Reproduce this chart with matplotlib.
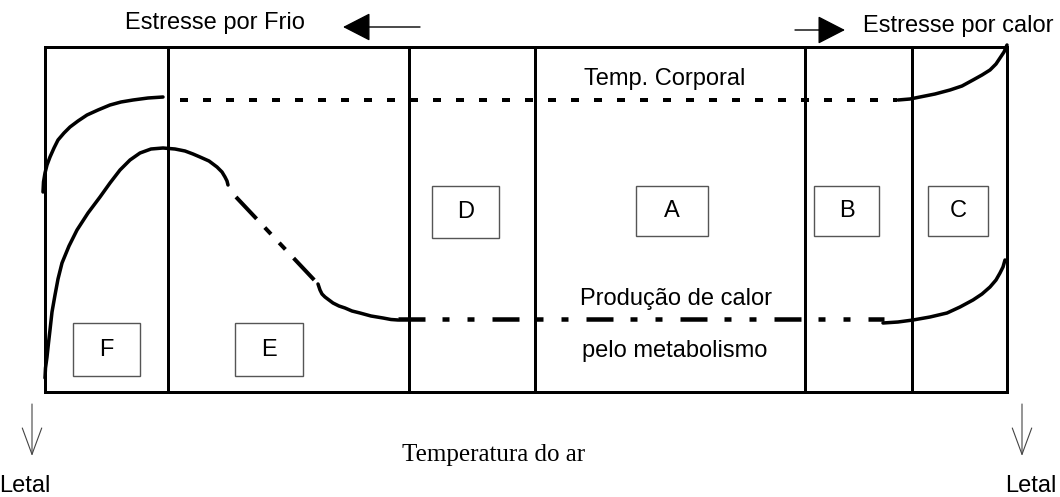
import matplotlib.pyplot as plt
from matplotlib.patches import Rectangle

plt.rcParams['lines.scale_dashes'] = False
plt.rcParams['font.family'] = ['Liberation Sans', 'DejaVu Sans']

# limites das zonas (eixo de temperatura, em px do desenho)
zone_edges = [45, 168, 409, 535, 805, 912, 1007]
zone_letters = ['F', 'E', 'D', 'A', 'B', 'C']
# caixas das letras: (x0, x1, y0, y1)
letter_boxes = [(73, 140, 323, 376), (235, 303, 323, 376), (432, 499, 186, 238),
                (636, 708, 186, 236), (814, 879, 186, 236), (928, 988, 186, 236)]
frame_top, frame_bottom = 47, 392

# temperatura corporal
temp_left_x = [43, 43.5, 45, 47, 50, 54, 58, 64, 70, 78, 87, 98, 110, 121, 133, 148, 163]
temp_left_y = [192, 182, 173, 165, 157, 148, 140, 133, 127, 121, 115, 110, 105, 102, 100, 98, 97]
temp_flat_x = [180, 897]
temp_flat_y = [100, 100]
temp_right_x = [898, 910, 920, 935, 950, 962, 973, 982, 990, 996, 1000, 1004, 1007]
temp_right_y = [100, 99, 97, 94, 90, 86, 80, 75, 70, 64, 58, 52, 45]

# producao de calor
heat_left_x = [45, 45.5, 47, 48.5, 50, 52, 55, 58, 62, 69, 77, 88, 100, 110, 120, 130, 140,
               151, 163, 175, 185, 193, 200, 209, 217, 222, 225, 227, 228]
heat_left_y = [378, 368, 357, 343, 330, 312, 295, 279, 263, 246, 230, 213, 197, 183, 170, 160,
               153, 149, 148, 149, 151, 154, 157, 161, 167, 172, 177, 181, 185]
heat_diag_x = [236, 318]
heat_diag_y = [197, 284]
heat_mid_x = [318, 319, 320, 322, 325, 329, 333, 339, 345, 352, 360, 371, 383, 391, 398]
heat_mid_y = [284, 287, 290, 294, 297, 300, 303, 306, 308, 311, 313, 316, 318, 319.5, 320]
heat_flat_x = [398, 884]
heat_flat_y = [319, 319]
heat_right_x = [883, 898, 913, 930, 947, 960, 973, 982, 990, 996, 1000, 1003, 1005]
heat_right_y = [323, 322, 320, 317, 313, 307, 300, 294, 287, 280, 273, 267, 260]

px = 0.72  # px -> pt a 100 dpi

fig = plt.figure(figsize=(10.6, 4.97), dpi=100)
ax = fig.add_axes([0, 0, 1, 1])
ax.set_xlim(0, 1060)
ax.set_ylim(497, 0)
ax.axis('off')

# moldura e divisoes
ax.add_patch(Rectangle((zone_edges[0], frame_top), zone_edges[-1] - zone_edges[0],
                       frame_bottom - frame_top, fill=False, lw=3 * px, ec='black'))
for x in zone_edges[1:-1]:
    ax.plot([x, x], [frame_top, frame_bottom], color='black', lw=3 * px)

# letras das zonas
for (x0, x1, y0, y1), letter in zip(letter_boxes, zone_letters):
    ax.add_patch(Rectangle((x0, y0), x1 - x0, y1 - y0, fill=False, lw=1.0, ec='#555555'))
    ax.text((x0 + x1) / 2, (y0 + y1) / 2, letter, fontsize=17, ha='center', va='center')

lw_c = 3.5 * px
# curvas da temperatura corporal
ax.plot(temp_left_x, temp_left_y, color='black', lw=lw_c, solid_capstyle='round',
        solid_joinstyle='round')
ax.plot(temp_flat_x, temp_flat_y, color='black', lw=4 * px, dashes=(8 * px, 15 * px),
        dash_capstyle='butt')
ax.plot(temp_right_x, temp_right_y, color='black', lw=lw_c, solid_capstyle='round',
        solid_joinstyle='round')

# curvas da producao de calor
dashdot = (27 * px, 17 * px, 7 * px, 18 * px, 7 * px, 18 * px)
ax.plot(heat_left_x, heat_left_y, color='black', lw=lw_c, solid_capstyle='round',
        solid_joinstyle='round')
ax.plot(heat_diag_x, heat_diag_y, color='black', lw=4 * px,
        dashes=(30 * px, 12 * px, 9 * px, 12 * px, 9 * px, 12 * px), dash_capstyle='butt')
ax.plot(heat_mid_x, heat_mid_y, color='black', lw=lw_c, solid_capstyle='round',
        solid_joinstyle='round')
ax.plot(heat_flat_x, heat_flat_y, color='black', lw=4.5 * px, dashes=dashdot,
        dash_capstyle='butt')
ax.plot(heat_right_x, heat_right_y, color='black', lw=lw_c, solid_capstyle='round',
        solid_joinstyle='round')

# textos
ax.text(215, 29, 'Estresse por Frio', fontsize=17, ha='center', va='baseline')
ax.text(958, 32, 'Estresse por calor', fontsize=17, ha='center', va='baseline')
ax.text(665, 85, 'Temp. Corporal', fontsize=17, ha='center', va='baseline')
ax.text(676, 305, 'Produção de calor', fontsize=17, ha='center', va='baseline')
ax.text(675, 357, 'pelo metabolismo', fontsize=17, ha='center', va='baseline')
ax.text(494, 461, 'Temperatura do ar', fontsize=18, ha='center', va='baseline',
        family=['Liberation Serif', 'DejaVu Serif'])
ax.text(25, 492, 'Letal', fontsize=17, ha='center', va='baseline')
ax.text(1031, 492, 'Letal', fontsize=17, ha='center', va='baseline')

# setas
ax.annotate('', xy=(343, 27), xytext=(420, 27),
            arrowprops=dict(arrowstyle='-|>,head_length=1.75,head_width=0.9',
                            mutation_scale=10, lw=1.0, color='black', shrinkA=0, shrinkB=0))
ax.annotate('', xy=(845, 30), xytext=(795, 30),
            arrowprops=dict(arrowstyle='-|>,head_length=1.75,head_width=0.9',
                            mutation_scale=10, lw=1.0, color='black', shrinkA=0, shrinkB=0))
for x in [32, 1022]:
    ax.annotate('', xy=(x, 456), xytext=(x, 404),
                arrowprops=dict(arrowstyle='->,head_length=1.9,head_width=0.7',
                                mutation_scale=10, lw=0.8, color='#444444',
                                shrinkA=0, shrinkB=0))

fig.savefig('out.png', dpi=100)
